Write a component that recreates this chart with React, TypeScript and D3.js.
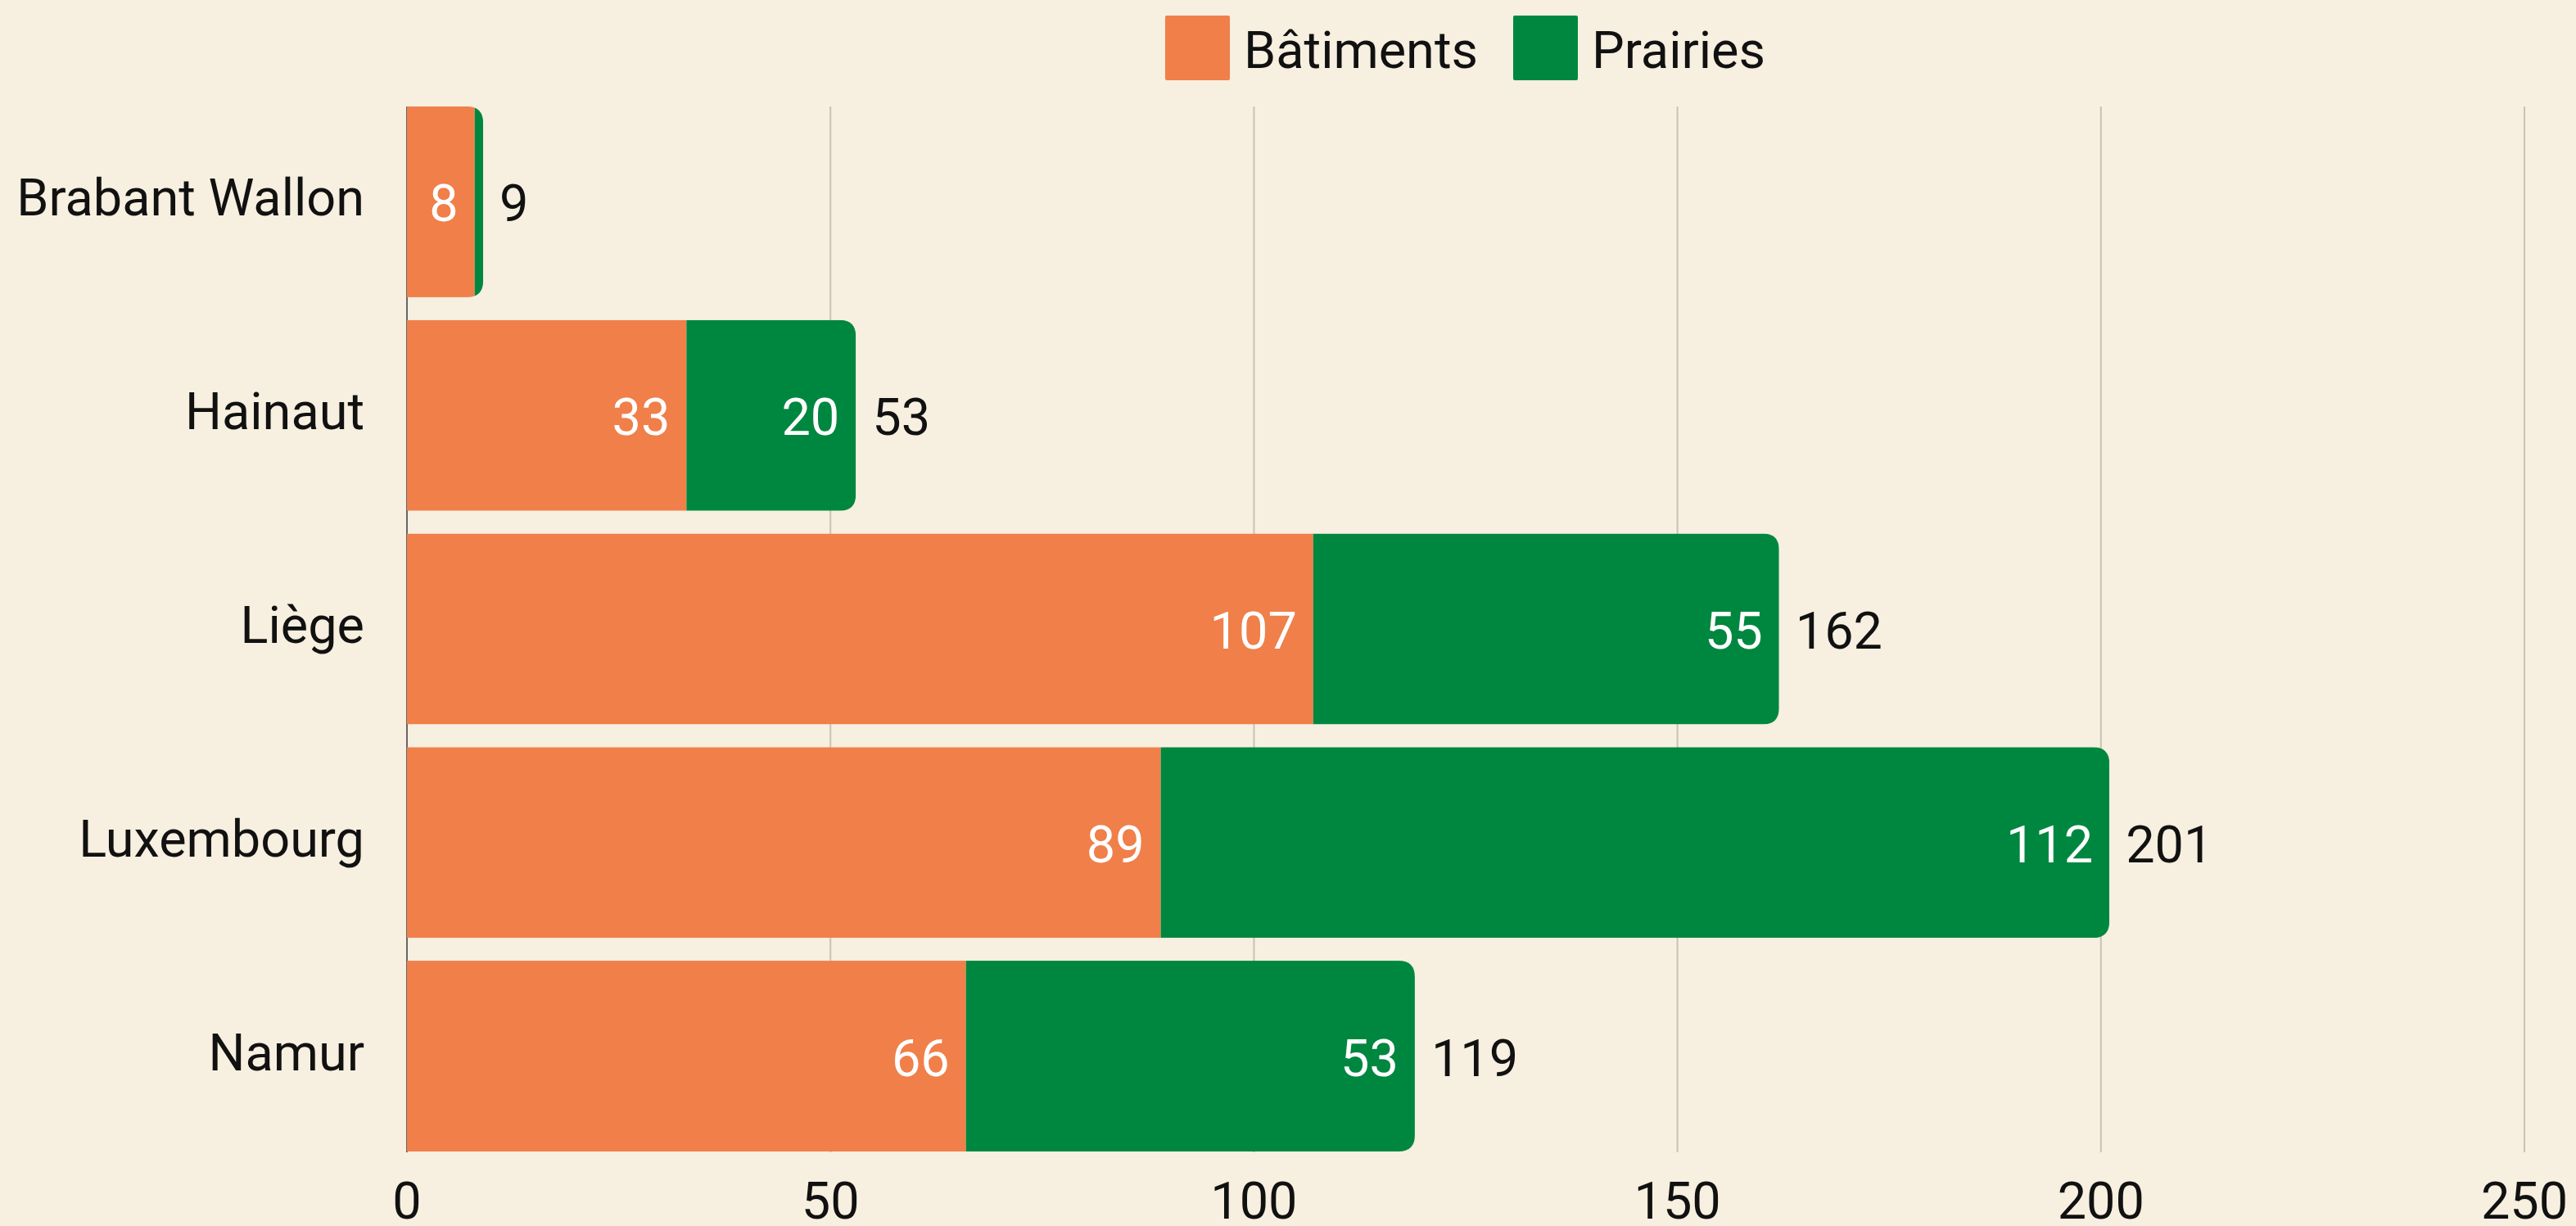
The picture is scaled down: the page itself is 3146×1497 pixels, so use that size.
import React, { useEffect, useRef } from "react";
import * as d3 from "d3";

const regions = ["Brabant Wallon", "Hainaut", "Liège", "Luxembourg", "Namur"];
const batiments = [8, 33, 107, 89, 66];
const prairies = [1, 20, 55, 112, 53];
const seriesNames = ["Bâtiments", "Prairies"];
const seriesColors = ["#f07f4a", "#00873f"];
const xTicks = [0, 50, 100, 150, 200, 250];

function App() {
    const chartRef = useRef<HTMLDivElement>(null);

    useEffect(() => {
        const width = 3146;
        const height = 1497;
        const font = "Roboto, sans-serif";
        const fontSize = 63;
        const radius = 20;

        const x = d3.scaleLinear().domain([0, 250]).range([497, 3083]);
        const y = d3.scaleBand<string>()
            .domain(regions)
            .range([130, 1406])
            .paddingInner(0.107)
            .paddingOuter(0);

        d3.select(chartRef.current).select("svg").remove();

        const svg = d3.select(chartRef.current)
            .append("svg")
            .attr("width", width)
            .attr("height", height)
            .attr("viewBox", [0, 0, width, height])
            .style("display", "block")
            .style("background", "#f7efdf");

        // grid
        svg.selectAll("line.grid")
            .data(xTicks)
            .enter()
            .append("line")
            .attr("x1", d => x(d))
            .attr("x2", d => x(d))
            .attr("y1", 130)
            .attr("y2", 1407)
            .attr("stroke", d => (d === 0 ? "#666" : "#c9c3b5"))
            .attr("stroke-width", 2);

        // tick labels
        svg.selectAll("text.tick")
            .data(xTicks)
            .enter()
            .append("text")
            .attr("x", d => x(d))
            .attr("y", 1488)
            .attr("text-anchor", "middle")
            .attr("font-family", font)
            .attr("font-size", fontSize)
            .attr("fill", "#111")
            .text(d => d);

        const rows = regions.map((r, i) => ({
            region: r,
            a: batiments[i],
            b: prairies[i],
            total: batiments[i] + prairies[i],
        }));

        const defs = svg.append("defs");
        rows.forEach((d, i) => {
            const x0 = x(0);
            const x1 = x(d.total);
            const top = y(d.region)!;
            const h = y.bandwidth();
            const r = radius;
            defs.append("clipPath")
                .attr("id", "clip" + i)
                .append("path")
                .attr("d", `M${x0},${top} H${x1 - r} Q${x1},${top} ${x1},${top + r} V${top + h - r} Q${x1},${top + h} ${x1 - r},${top + h} H${x0} Z`);
        });

        const g = svg.selectAll("g.row")
            .data(rows)
            .enter()
            .append("g")
            .attr("clip-path", (d, i) => `url(#clip${i})`);

        g.append("rect")
            .attr("x", x(0))
            .attr("y", d => y(d.region)!)
            .attr("width", d => x(d.a) - x(0))
            .attr("height", y.bandwidth())
            .attr("fill", seriesColors[0]);

        g.append("rect")
            .attr("x", d => x(d.a))
            .attr("y", d => y(d.region)!)
            .attr("width", d => x(d.total) - x(d.a))
            .attr("height", y.bandwidth())
            .attr("fill", seriesColors[1]);

        // category labels
        svg.selectAll("text.cat")
            .data(rows)
            .enter()
            .append("text")
            .attr("x", 445)
            .attr("y", d => y(d.region)! + y.bandwidth() / 2 + 17)
            .attr("text-anchor", "end")
            .attr("font-family", font)
            .attr("font-size", fontSize)
            .attr("fill", "#111")
            .text(d => d.region);

        // inside labels
        svg.selectAll("text.inA")
            .data(rows)
            .enter()
            .append("text")
            .attr("x", d => x(d.a) - 20)
            .attr("y", d => y(d.region)! + y.bandwidth() / 2 + 24)
            .attr("text-anchor", "end")
            .attr("font-family", font)
            .attr("font-size", fontSize)
            .attr("fill", "#fff")
            .text(d => d.a);

        svg.selectAll("text.inB")
            .data(rows.filter(d => x(d.total) - x(d.a) > 80))
            .enter()
            .append("text")
            .attr("x", d => x(d.total) - 20)
            .attr("y", d => y(d.region)! + y.bandwidth() / 2 + 24)
            .attr("text-anchor", "end")
            .attr("font-family", font)
            .attr("font-size", fontSize)
            .attr("fill", "#fff")
            .text(d => d.b);

        // totals
        svg.selectAll("text.total")
            .data(rows)
            .enter()
            .append("text")
            .attr("x", d => x(d.total) + 20)
            .attr("y", d => y(d.region)! + y.bandwidth() / 2 + 24)
            .attr("font-family", font)
            .attr("font-size", fontSize)
            .attr("fill", "#111")
            .text(d => d.total);

        // legend
        const legendX = [1423, 1848];
        const legend = svg.selectAll("g.legend")
            .data(seriesNames)
            .enter()
            .append("g")
            .attr("transform", (d, i) => `translate(${legendX[i]},19)`);
        legend.append("rect")
            .attr("width", 79)
            .attr("height", 79)
            .attr("rx", 2)
            .attr("fill", (d, i) => seriesColors[i]);
        legend.append("text")
            .attr("x", 96)
            .attr("y", 64)
            .attr("font-family", font)
            .attr("font-size", fontSize)
            .attr("fill", "#111")
            .text(d => d);
    }, []);

    return (
        <div style={{ position: "absolute", left: 0, top: 0 }}>
            <div ref={chartRef}></div>
        </div>
    );
}

export default App;
